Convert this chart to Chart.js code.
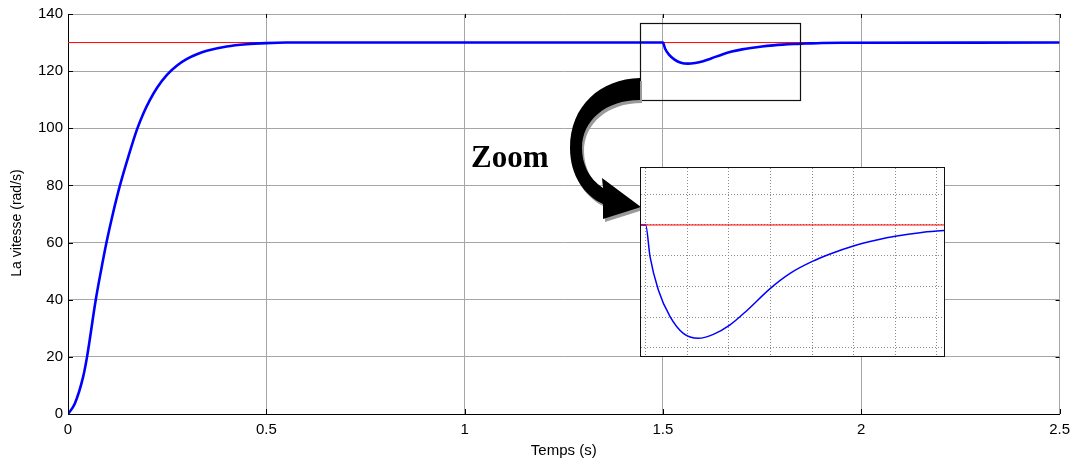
<!DOCTYPE html>
<html>
<head>
<meta charset="utf-8">
<script src="https://cdn.jsdelivr.net/npm/chart.js@4/dist/chart.umd.min.js"></script>
<style>
html,body{margin:0;padding:0;background:#fff;}
#wrap{position:relative;width:1077px;height:464px;}
#inset{position:absolute;left:640px;top:167px;width:305px;height:190px;box-sizing:border-box;border:1px solid #111;background:#fff;}
</style>
</head>
<body>
<div id="wrap">
  <canvas id="main" width="1077" height="464"></canvas>
  <div id="inset"><canvas id="zoomc" width="303" height="188"></canvas></div>
</div>
<script>
// ===== DATA =====
const speedT=[0,0.017,0.038,0.048,0.07,0.083,0.097,0.113,0.131,0.152,0.174,0.19,0.206,0.225,0.25,0.275,0.3,0.325,0.35,0.4,0.45,0.5,0.55,
  1.5,1.5052,1.5152,1.5293,1.5452,1.5633,1.5813,1.6014,1.6214,1.6495,1.6735,1.6996,1.7216,1.7496,1.7777,1.8017,1.8297,1.8598,1.90,1.95,2.5];
const speedV=[0,3.6,12.9,20,40,50,60,70,80,90,99.6,105.2,109.8,114.3,118.8,122,124.3,125.9,127.1,128.6,129.4,129.8,130,
  130,127.94,125.77,124.03,122.94,122.62,122.88,123.5,124.42,125.86,126.85,127.61,128.11,128.63,129.02,129.28,129.5,129.65,129.85,129.95,130];
const refT=[0,2.5];
const refV=[130,130];
const xTicks=[0,0.5,1,1.5,2,2.5];
const yTicks=[0,20,40,60,80,100,120,140];
// zoom window drawn on the main plot (data units)
const ZOOM_X=[1.4415,1.845], ZOOM_Y=[110,136.9];
// inset axis ranges (data units)
const INSET_X=[1.49435,1.8585], INSET_Y=[121.47,133.71];

const pts=(t,v)=>t.map((x,i)=>({x:x,y:v[i]}));
const FONT="'Liberation Sans',Arial,sans-serif";
const BLUE='#0000ff',RED='#ff0000',GRID='#a6a6a6';

// inward tick marks on all four sides (MATLAB look)
const innerTicks={id:'innerTicks',afterDatasetsDraw(c){
  const {ctx,chartArea:a,scales:{x,y}}=c;
  ctx.save();ctx.strokeStyle='#000';ctx.lineWidth=1;ctx.beginPath();
  xTicks.forEach(v=>{const p=Math.round(x.getPixelForValue(v))+0.5;ctx.moveTo(p,a.bottom);ctx.lineTo(p,a.bottom-5);ctx.moveTo(p,a.top);ctx.lineTo(p,a.top+4);});
  yTicks.forEach(v=>{const p=Math.round(y.getPixelForValue(v))+0.5;ctx.moveTo(a.left,p);ctx.lineTo(a.left+5,p);ctx.moveTo(a.right,p);ctx.lineTo(a.right-4,p);});
  ctx.stroke();
  // y axis title, sits a bit below the plot centre like the original
  ctx.translate(17,223);ctx.rotate(-Math.PI/2);
  ctx.fillStyle='#000';ctx.font='14px '+FONT;ctx.textAlign='center';ctx.textBaseline='middle';
  ctx.fillText('La vitesse (rad/s)',0,0);
  ctx.restore();
}};

// zoom box, curved arrow and label
const zoomDeco={id:'zoomDeco',afterDraw(c){
  const {ctx,scales:{x,y}}=c;
  const x0=Math.round(x.getPixelForValue(ZOOM_X[0]))+0.5,x1=Math.round(x.getPixelForValue(ZOOM_X[1]))+0.5;
  const y0=Math.round(y.getPixelForValue(ZOOM_Y[1]))+0.5,y1=Math.round(y.getPixelForValue(ZOOM_Y[0]))+0.5;
  ctx.save();
  ctx.strokeStyle='#111';ctx.lineWidth=1.2;ctx.strokeRect(x0,y0,x1-x0,y1-y0);
  const ins=document.getElementById('inset');
  const tipX=ins.offsetLeft+1,tipY=ins.offsetTop+40;
  const X=x0-0.5,B=y1-0.5;
  const arrow=(dx,dy)=>{
    ctx.beginPath();
    ctx.moveTo(X+dx,B-22+dy);
    ctx.bezierCurveTo(X-40+dx,B-21+dy,X-70+dx,B+6+dy,X-70+dx,B+48+dy);
    ctx.bezierCurveTo(X-70+dx,B+76+dy,X-55+dx,B+96+dy,X-37+dx,B+104+dy);
    ctx.lineTo(X-37+dx,B+119+dy);
    ctx.lineTo(tipX+dx,tipY+dy);
    ctx.lineTo(X-38+dx,B+78+dy);
    ctx.lineTo(X-37+dx,B+88+dy);
    ctx.bezierCurveTo(X-52+dx,B+78+dy,X-58+dx,B+63+dy,X-58+dx,B+48+dy);
    ctx.bezierCurveTo(X-58+dx,B+21+dy,X-35+dx,B+dy,X+dx,B+dy);
    ctx.closePath();ctx.fill();
  };
  ctx.fillStyle='#9a9a9a';arrow(2,3);
  ctx.fillStyle='#000';arrow(0,0);
  ctx.font="bold 31px 'Liberation Serif','Times New Roman',serif";
  ctx.textBaseline='alphabetic';ctx.fillText('Zoom',471,167);
  ctx.restore();
}};

// blue speed curve drawn over the red reference (lower order = on top)
new Chart(document.getElementById('main'),{type:'line',
  data:{datasets:[
    {label:'ref',data:pts(refT,refV),borderColor:RED,borderWidth:1,pointRadius:0,order:2},
    {label:'speed',data:pts(speedT,speedV),borderColor:BLUE,borderWidth:2.6,pointRadius:0,cubicInterpolationMode:'monotone',order:1}
  ]},
  options:{responsive:false,animation:false,events:[],
    layout:{padding:{top:13,right:17,left:0,bottom:0}},
    plugins:{legend:{display:false},tooltip:{enabled:false}},
    scales:{
      x:{type:'linear',min:0,max:2.5,afterFit:s=>{s.height=50;},
        afterBuildTicks:s=>{s.ticks=xTicks.map(v=>({value:v}));},
        grid:{color:GRID,drawTicks:false},border:{display:true,color:'#000',width:1},
        ticks:{color:'#000',font:{family:FONT,size:15},padding:7,maxRotation:0,callback:v=>String(v)},
        title:{display:true,text:'Temps (s)',color:'#000',font:{family:FONT,size:15},padding:{top:0}}},
      y:{type:'linear',min:0,max:140,afterFit:s=>{s.width=68;},
        afterBuildTicks:s=>{s.ticks=yTicks.map(v=>({value:v}));},
        grid:{color:GRID,drawTicks:false},border:{display:true,color:'#000',width:1},
        ticks:{color:'#000',font:{family:FONT,size:15},padding:5,callback:v=>String(v)}}
    }},
  plugins:[innerTicks,zoomDeco]});

// ===== INSET (zoomed view of the dip) =====
const dotted={color:'#8a8a8a',lineWidth:1,drawTicks:false};
new Chart(document.getElementById('zoomc'),{type:'line',
  data:{datasets:[
    {data:pts(refT,refV),borderColor:RED,borderWidth:1,pointRadius:0,order:1},
    {data:pts(speedT,speedV),borderColor:BLUE,borderWidth:1.5,pointRadius:0,cubicInterpolationMode:'monotone',order:2}
  ]},
  options:{responsive:false,animation:false,events:[],layout:{padding:0},
    plugins:{legend:{display:false},tooltip:{enabled:false}},
    scales:{
      x:{type:'linear',min:INSET_X[0],max:INSET_X[1],afterFit:s=>{s.height=0;},
        grid:dotted,border:{display:false,dash:[1,2]},
        ticks:{display:false,stepSize:0.05,includeBounds:false}},
      y:{type:'linear',min:INSET_Y[0],max:INSET_Y[1],afterFit:s=>{s.width=0;},
        grid:dotted,border:{display:false,dash:[1,2]},
        ticks:{display:false,stepSize:2,includeBounds:false}}
    }}});
</script>
</body>
</html>
